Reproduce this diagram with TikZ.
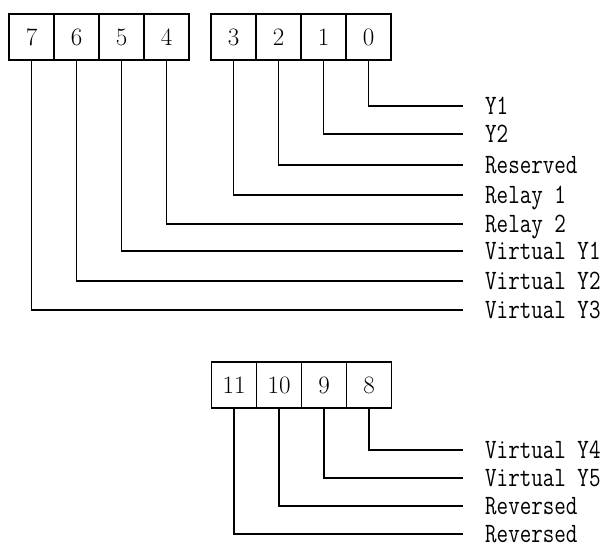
\documentclass[tikz,border=0pt]{standalone}
\usepackage{fontspec}
\newfontfamily\sigfont[FakeStretch=0.8]{Latin Modern Mono}
\usepackage{tikz}
\usetikzlibrary{
  positioning,
  calc
}
\tikzset{
  bitbox/.style={draw, line width=1.2pt, minimum width=45pt, minimum height=46pt,
    inner sep=0pt, font=\fontsize{25}{28}\selectfont},
  sigtext/.style={anchor=west, inner xsep=22pt, inner ysep=0pt,
    text height=17pt, text depth=0pt,
    font=\sigfont\fontsize{28}{32}\selectfont},
  wire/.style={line width=1.2pt},
}

\begin{document}
\begin{tikzpicture}[x=1pt, y=-1pt]
  \useasboundingbox (0,0) rectangle (606,550);

  % upper register, bits 7..0
  \foreach \b/\x in {7/31.5, 6/76.5, 5/121.5, 4/166.5,
                     3/233.5, 2/278.5, 1/323.5, 0/368.5} {
    \node[bitbox] (b\b) at (\x,37) {\b};
  }

  % lower register, bits 11..8
  \foreach \b/\x in {11/234, 10/279, 9/324, 8/369} {
    \node[bitbox] (b\b) at (\x,385) {\b};
  }

  % signal names
  \node[sigtext] (l0) at (463,106) {Y1};
  \node[sigtext] (l1) at (463,134) {Y2};
  \node[sigtext] (l2) at (463,165) {Reserved};
  \node[sigtext] (l3) at (463,195) {Relay 1};
  \node[sigtext] (l4) at (463,224) {Relay 2};
  \node[sigtext] (l5) at (463,251) {Virtual Y1};
  \node[sigtext] (l6) at (463,281) {Virtual Y2};
  \node[sigtext] (l7) at (463,310) {Virtual Y3};
  \node[sigtext] (l8) at (463,450) {Virtual Y4};
  \node[sigtext] (l9) at (463,478) {Virtual Y5};
  \node[sigtext] (l10) at (463,506) {Reversed};
  \node[sigtext] (l11) at (463,534) {Reversed};

  % wires
  \foreach \b in {0,...,11} {
    \draw[wire] (b\b.south) |- (l\b.west);
  }
\end{tikzpicture}
\end{document}
